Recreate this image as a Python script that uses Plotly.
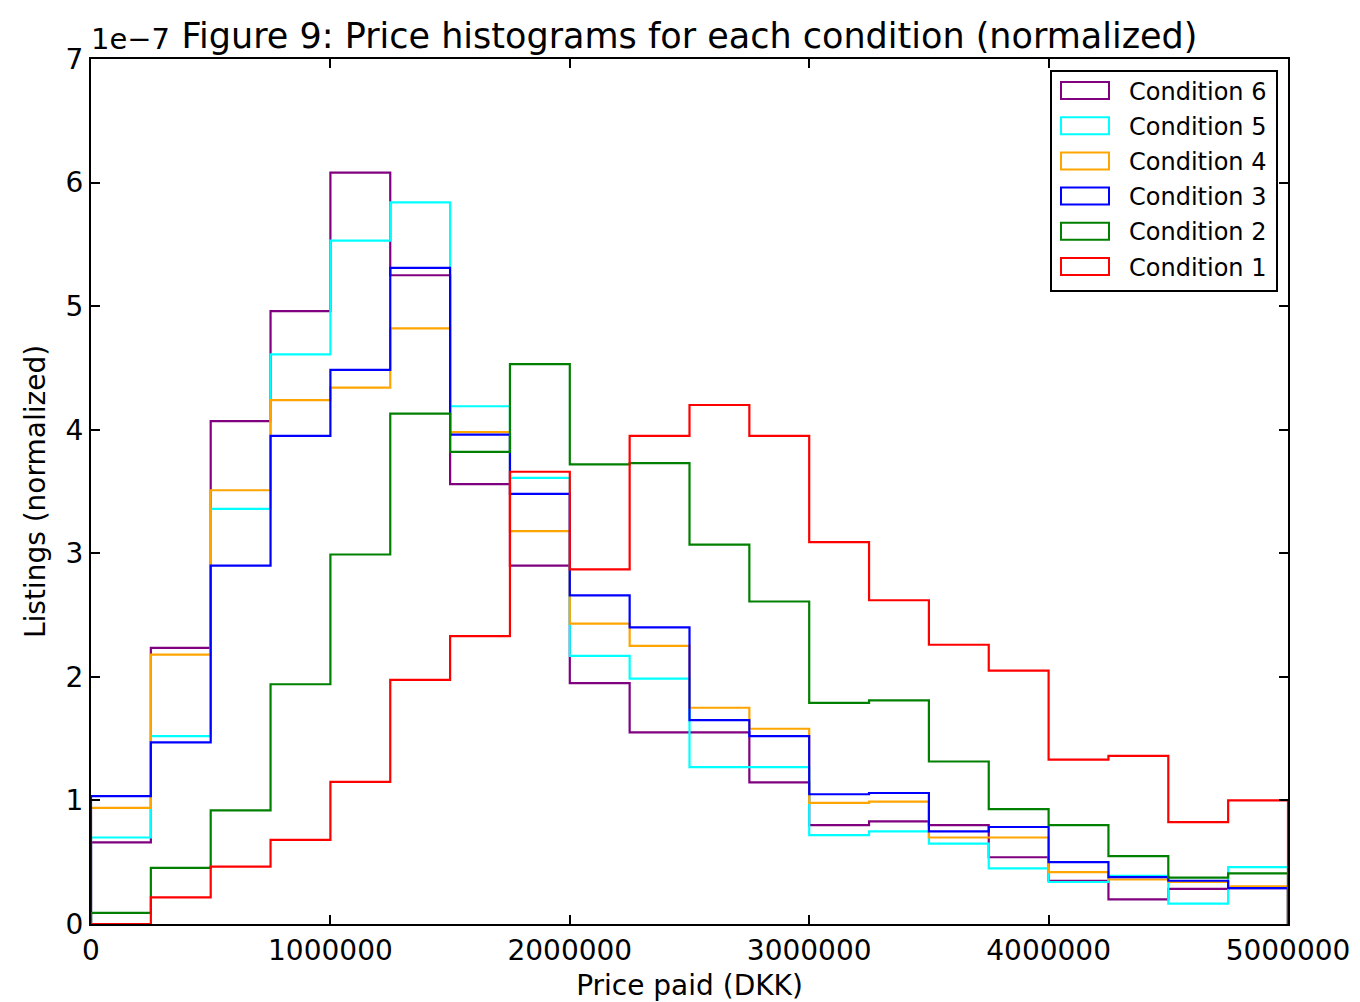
import plotly.graph_objects as go

# Bin edges for the price histograms (DKK), 20 bins of 250 000
bin_edges = [i * 250000 for i in range(21)]

# Normalized densities per bin, in units of 1e-7
cond1 = [0.00, 0.215, 0.465, 0.68, 1.15, 1.975, 2.33, 3.66, 2.87, 3.95,
         4.20, 3.95, 3.09, 2.62, 2.26, 2.05, 1.33, 1.36, 0.825, 1.00]
cond2 = [0.09, 0.455, 0.92, 1.94, 2.99, 4.13, 3.82, 4.53, 3.72, 3.73,
         3.07, 2.61, 1.79, 1.81, 1.315, 0.93, 0.80, 0.55, 0.375, 0.41]
cond3 = [1.035, 1.47, 2.90, 3.95, 4.485, 5.31, 3.96, 3.48, 2.66, 2.40,
         1.65, 1.52, 1.05, 1.06, 0.75, 0.785, 0.50, 0.38, 0.35, 0.29]
cond4 = [0.94, 2.18, 3.51, 4.24, 4.34, 4.82, 3.98, 3.18, 2.43, 2.25,
         1.75, 1.58, 0.98, 0.99, 0.70, 0.70, 0.42, 0.36, 0.34, 0.305]
cond5 = [0.70, 1.52, 3.36, 4.61, 5.53, 5.84, 4.19, 3.61, 2.17, 1.985,
         1.27, 1.27, 0.72, 0.75, 0.65, 0.45, 0.34, 0.39, 0.165, 0.46]
cond6 = [0.66, 2.235, 4.07, 4.96, 6.08, 5.25, 3.56, 2.90, 1.95, 1.55,
         1.55, 1.146, 0.80, 0.83, 0.80, 0.54, 0.35, 0.20, 0.285, 0.29]

series_names = ["Condition 6", "Condition 5", "Condition 4",
                "Condition 3", "Condition 2", "Condition 1"]
series_values = [cond6, cond5, cond4, cond3, cond2, cond1]
series_colors = ["purple", "cyan", "orange", "blue", "green", "red"]

x_ticks = [0, 1000000, 2000000, 3000000, 4000000, 5000000]
y_ticks = [0, 1, 2, 3, 4, 5, 6, 7]

FONT = "DejaVu Sans"

fig = go.Figure()

# Step outlines (closed to the baseline at both ends, like histtype='step')
for name, vals, color in zip(series_names, series_values, series_colors):
    xs = [bin_edges[0]] + bin_edges[:-1] + [bin_edges[-1], bin_edges[-1]]
    ys = [0] + vals + [vals[-1], 0]
    fig.add_trace(go.Scatter(
        x=xs, y=ys, mode="lines", name=name,
        line=dict(color=color, width=2.2, shape="hv"),
        showlegend=False, hoverinfo="skip",
    ))

# Plot-area geometry in pixels
W, H = 1360, 1002
L, R, T, B = 91, 72, 59, 78
pw, ph = W - L - R, H - T - B


def px_x(px):
    return (px - L) / pw


def px_y(py):
    return (H - B - py) / ph


# Legend box with outlined patches
shapes = [dict(type="rect", xref="paper", yref="paper",
               x0=px_x(1051), x1=px_x(1277), y0=px_y(291), y1=px_y(71),
               line=dict(color="black", width=2), fillcolor="white", layer="above")]
annotations = []
row_h = 35.2
for i, (name, color) in enumerate(zip(series_names, series_colors)):
    cy = 90.5 + i * row_h
    shapes.append(dict(type="rect", xref="paper", yref="paper",
                       x0=px_x(1061), x1=px_x(1109),
                       y0=px_y(cy + 8.5), y1=px_y(cy - 8.5),
                       line=dict(color=color, width=2), fillcolor="rgba(0,0,0,0)",
                       layer="above"))
    annotations.append(dict(text=name, xref="paper", yref="paper",
                            x=px_x(1127), y=px_y(cy + 1), xanchor="left", yanchor="middle",
                            showarrow=False, font=dict(family=FONT, size=24, color="black")))

# Axis offset label
annotations.append(dict(text="1e\u22127", xref="paper", yref="paper", x=0, y=1,
                        xanchor="left", yanchor="bottom", yshift=1, xshift=-2,
                        showarrow=False, font=dict(family=FONT, size=29, color="black")))

fig.update_layout(
    width=W, height=H,
    margin=dict(l=L, r=R, t=T, b=B),
    paper_bgcolor="white", plot_bgcolor="white",
    title=dict(text="Figure 9: Price histograms for each condition (normalized)",
               x=(L + pw / 2) / W, xanchor="center", y=1 - 36 / H, yanchor="middle",
               font=dict(family=FONT, size=35, color="black")),
    font=dict(family=FONT, size=28, color="black"),
    shapes=shapes, annotations=annotations,
    showlegend=False,
)

axis_common = dict(showline=True, linecolor="black", linewidth=2, mirror="ticks",
                   ticks="inside", ticklen=9, tickwidth=1.5, tickcolor="black",
                   showgrid=False, zeroline=False, layer="above traces",
                   automargin=False,
                   tickfont=dict(family=FONT, size=28, color="black"))

fig.update_xaxes(range=[bin_edges[0], bin_edges[-1]], tickvals=x_ticks,
                 ticktext=[str(v) for v in x_ticks],
                 title=dict(text="Price paid (DKK)", font=dict(family=FONT, size=28),
                            standoff=16),
                 **axis_common)
fig.update_yaxes(range=[0, 7], tickvals=y_ticks,
                 ticktext=[str(v) for v in y_ticks],
                 title=dict(text="Listings (normalized)", font=dict(family=FONT, size=28),
                            standoff=12),
                 **axis_common)

fig.write_html("out.html")
